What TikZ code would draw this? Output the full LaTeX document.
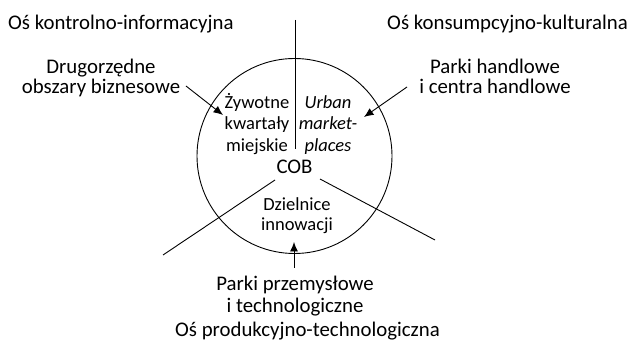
\documentclass[tikz,border=0pt]{standalone}
\usepackage{fontspec}
\setmainfont{Carlito}
\usetikzlibrary{arrows.meta}
\begin{document}
\begin{tikzpicture}[x=1pt,y=-1pt,
  lbl/.style={inner sep=0pt, align=center, font=\fontsize{20.8}{20.5}\selectfont},
  inlbl/.style={inner sep=0pt, align=center, font=\fontsize{18.5}{21.7}\selectfont},
  ax/.style={line width=0.9pt},
  arr/.style={line width=0.9pt, -{Latex[length=9.5pt,width=8pt]}}]
\useasboundingbox[fill=white] (0,0) rectangle (633,342);
% circle
\node (ring) [circle, draw, line width=0.9pt, minimum size=195pt, inner sep=0pt] at (294.5,156) {};
% axes
\coordinate (vtop) at (295,20);
\coordinate (vbot) at (295,149);
\coordinate (lin) at (275,180);
\coordinate (lout) at (163,255);
\coordinate (rin) at (320,179);
\coordinate (rout) at (435,240);
\draw[ax] (vtop) -- (vbot);
\draw[ax] (lin) -- (lout);
\draw[ax] (rin) -- (rout);
% axis titles
\node (axkon) [lbl, anchor=base west] at (8,29.3) {Oś kontrolno-informacyjna};
\node (axkul) [lbl, anchor=base east] at (628,29.3) {Oś konsumpcyjno-kulturalna};
\node (axpro) [lbl, anchor=base] at (307.5,337) {Oś produkcyjno-technologiczna};
% outer labels
\node (drug) [lbl, anchor=base] at (101,94) {Drugorzędne\\obszary biznesowe};
\node (parkh) [lbl, anchor=base] at (495,94) {Parki handlowe\\i centra handlowe};
\node (parkp) [lbl, anchor=base, font=\fontsize{20.8}{23}\selectfont] at (295,313) {Parki przemysłowe\\i technologiczne};
% inner labels
\node (zyw) [inlbl, anchor=base] at (257,151.7) {Żywotne\\kwartały\\miejskie};
\node (urb) [inlbl, anchor=base, font=\fontsize{18.5}{21.7}\selectfont\itshape] at (328,151.7) {Urban\\market-\\places};
\node (cob) [lbl, anchor=base] at (294.5,173.3) {COB};
\node (dziel) [inlbl, anchor=base, font=\fontsize{18.5}{20}\selectfont] at (297,230.7) {Dzielnice\\innowacji};
% arrows
\coordinate (a1s) at (186,86);
\coordinate (a1e) at (223,115);
\coordinate (a2s) at (407,87);
\coordinate (a2e) at (364,117);
\coordinate (a3s) at (294,268);
\coordinate (a3e) at (294,242);
\draw[arr] (a1s) -- (a1e);
\draw[arr] (a2s) -- (a2e);
\draw[arr] (a3s) -- (a3e);
\end{tikzpicture}
\end{document}
